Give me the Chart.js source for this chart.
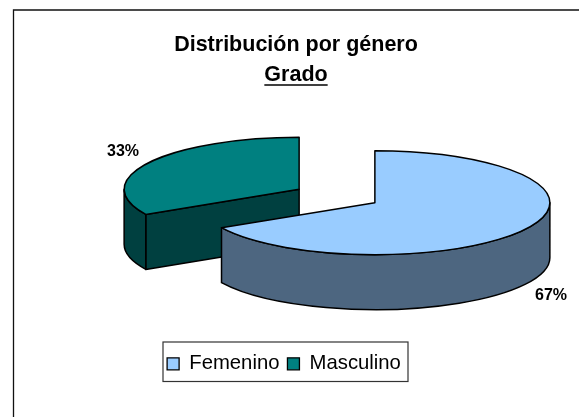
<!DOCTYPE html>
<html lang="es">
<head>
<meta charset="utf-8">
<title>Distribución por género</title>
<script src="https://cdn.jsdelivr.net/npm/chart.js@4/dist/chart.umd.min.js"></script>
<style>
  html, body { margin: 0; padding: 0; background: #fff; }
  #wrap { position: relative; width: 579px; height: 417px; overflow: hidden; }
</style>
</head>
<body>
<div id="wrap"><canvas id="pie"></canvas></div>
<script>
"use strict";

const genders = ["Femenino", "Masculino"];
const shares = [67, 33];
const topColours = ["#99ccff", "#008080"];
const wallColours = ["#4d6680", "#004040"];
const titleLines = ["Distribución por género", "Grado"];

// vista 3D falsa: la tarta se aplasta en Y y se le pone una pared debajo
const RADIUS = 175;
const SQUASH = 0.297;
const DEPTH = 55;
const EXPLODE = 44;
const BASE_X = 337;
const BASE_Y = 196;
const LINE = "#000";
const SANS = "'Liberation Sans', Arial, sans-serif";

function sliceCentre(arc) {
  const mid = (arc.startAngle + arc.endAngle) / 2;
  return {
    x: BASE_X + Math.cos(mid) * EXPLODE,
    y: BASE_Y + Math.sin(mid) * EXPLODE * SQUASH
  };
}

function drawWall(ctx, arc, c, colour) {
  const rx = arc.outerRadius;
  const ry = rx * SQUASH;
  // solo se ve la mitad de abajo de la elipse (0..PI)
  const from = Math.max(arc.startAngle, 0);
  const to = Math.min(arc.endAngle, Math.PI);
  ctx.fillStyle = colour;
  ctx.strokeStyle = LINE;
  ctx.lineWidth = 1.5;
  ctx.lineJoin = "round";

  // cara del corte, cuando mira hacia el frente
  if (arc.startAngle > Math.PI / 2 && arc.startAngle < Math.PI) {
    const ex = c.x + Math.cos(arc.startAngle) * rx;
    const ey = c.y + Math.sin(arc.startAngle) * ry;
    ctx.beginPath();
    ctx.moveTo(c.x, c.y);
    ctx.lineTo(ex, ey);
    ctx.lineTo(ex, ey + DEPTH);
    ctx.lineTo(c.x, c.y + DEPTH);
    ctx.closePath();
    ctx.fill();
    ctx.stroke();
  }

  if (to > from) {
    ctx.beginPath();
    ctx.ellipse(c.x, c.y, rx, ry, 0, from, to);
    ctx.ellipse(c.x, c.y + DEPTH, rx, ry, 0, to, from, true);
    ctx.closePath();
    ctx.fill();
    ctx.stroke();
  }
}

function drawTop(ctx, arc, c) {
  const rx = arc.outerRadius;
  ctx.save();
  ctx.translate(c.x, c.y);
  ctx.scale(1, SQUASH);
  ctx.translate(-arc.x, -arc.y);
  arc.draw(ctx);
  ctx.restore();

  ctx.strokeStyle = LINE;
  ctx.lineWidth = 1.5;
  ctx.lineJoin = "round";
  ctx.beginPath();
  ctx.moveTo(c.x, c.y);
  ctx.ellipse(c.x, c.y, rx, rx * SQUASH, 0, arc.startAngle, arc.endAngle);
  ctx.closePath();
  ctx.stroke();
}

function drawPercent(ctx, arc, c, value) {
  const mid = (arc.startAngle + arc.endAngle) / 2;
  const down = Math.sin(mid) > 0;
  const side = Math.cos(mid) > 0 ? 1 : -1;
  const x = c.x + Math.cos(mid) * arc.outerRadius + side * 25.5;
  const y = c.y + Math.sin(mid) * arc.outerRadius * SQUASH + (down ? DEPTH + 11 : -11);
  ctx.fillStyle = "#000";
  ctx.font = "bold 16px " + SANS;
  ctx.textAlign = "center";
  ctx.textBaseline = "middle";
  ctx.fillText(value + "%", x, y);
}

const pie3d = {
  id: "pie3d",
  afterLayout(chart) {
    // la leyenda va algo a la izquierda del centro del marco
    chart.legend.left -= 12;
    chart.legend.right -= 12;
  },
  beforeDraw(chart) {
    const ctx = chart.ctx;
    ctx.save();
    ctx.strokeStyle = "#111";
    ctx.lineWidth = 1.3;
    ctx.beginPath();
    ctx.moveTo(13.5, 417);
    ctx.lineTo(13.5, 10);
    ctx.lineTo(579, 10);
    ctx.stroke();
    ctx.restore();
  },
  beforeDatasetDraw(chart, args) {
    const ctx = chart.ctx;
    const arcs = args.meta.data;
    const order = arcs.map((_, i) => i).reverse();
    ctx.save();
    order.forEach((i) => {
      const c = sliceCentre(arcs[i]);
      drawWall(ctx, arcs[i], c, wallColours[i]);
      drawTop(ctx, arcs[i], c);
    });
    arcs.forEach((arc, i) => drawPercent(ctx, arc, sliceCentre(arc), shares[i]));
    ctx.restore();
    return false;
  },
  afterDraw(chart) {
    const ctx = chart.ctx;
    const title = chart.titleBlock;
    ctx.save();

    // el título de Chart.js no subraya, la segunda línea va a mano
    ctx.font = chart.options.plugins.title.font.weight + " " + chart.options.plugins.title.font.size + "px " + SANS;
    const w = ctx.measureText(titleLines[1]).width;
    const mx = (title.left + title.right) / 2;
    ctx.strokeStyle = "#000";
    ctx.lineWidth = 1.4;
    ctx.beginPath();
    ctx.moveTo(mx - w / 2, 85);
    ctx.lineTo(mx + w / 2, 85);
    ctx.stroke();

    // marco de la leyenda
    ctx.strokeStyle = "#333";
    ctx.lineWidth = 1.2;
    ctx.strokeRect(163, 342, 245, 39.5);
    ctx.restore();
  }
};

new Chart(document.getElementById("pie"), {
  type: "pie",
  data: {
    labels: genders,
    datasets: [{
      data: shares,
      backgroundColor: topColours,
      borderWidth: 0,
      radius: RADIUS
    }]
  },
  options: {
    responsive: true,
    maintainAspectRatio: false,
    animation: false,
    layout: { padding: { left: 13, right: 0, top: 30, bottom: 33 } },
    plugins: {
      tooltip: { enabled: false },
      title: {
        display: true,
        text: titleLines,
        color: "#000",
        padding: 0,
        font: { family: SANS, size: 21.5, weight: "bold", lineHeight: 1.4 }
      },
      legend: {
        position: "bottom",
        labels: {
          color: "#000",
          boxWidth: 12,
          boxHeight: 12,
          padding: 8,
          font: { family: SANS, size: 20.3 },
          generateLabels(chart) {
            return genders.map((name, i) => ({
              text: name,
              fillStyle: topColours[i],
              strokeStyle: "#000",
              lineWidth: 1.3,
              index: i
            }));
          }
        }
      }
    }
  },
  plugins: [pie3d]
});
</script>
</body>
</html>
